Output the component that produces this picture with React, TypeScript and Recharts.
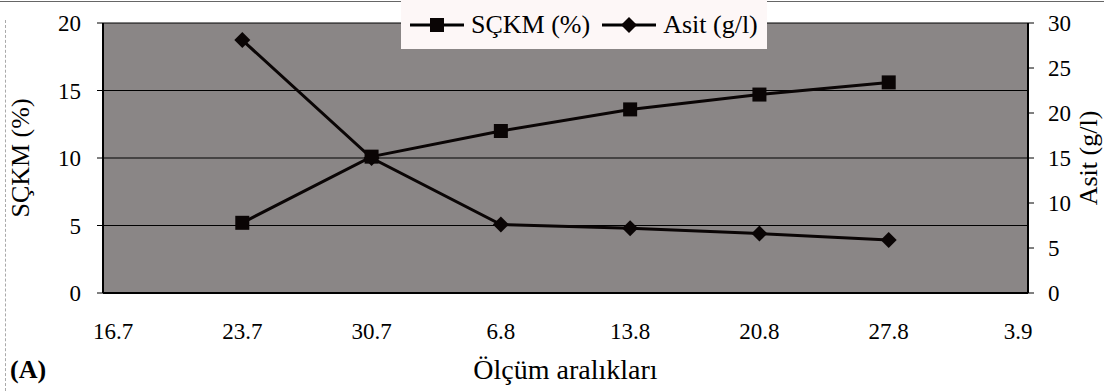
import { ComposedChart, Line, XAxis, YAxis, CartesianGrid } from 'recharts'

const categories = ['16.7', '23.7', '30.7', '6.8', '13.8', '20.8', '27.8', '3.9']
const sckm = [null, 5.2, 10.1, 12.0, 13.6, 14.7, 15.6, null]
const asit = [null, 28.1, 15.0, 7.6, 7.2, 6.6, 5.9, null]
const leftTicks = [0, 5, 10, 15, 20]
const rightTicks = [0, 5, 10, 15, 20, 25, 30]

const data = categories.map((c, i) => ({ cat: c, sckm: sckm[i], asit: asit[i] }))

const FONT = 'Liberation Serif, Times New Roman, serif'
const tickStyle = { fontSize: 23, fill: '#000', fontFamily: FONT }

function SquareDot(props: any) {
  const { cx, cy } = props
  if (cx == null || cy == null || props.value == null) return null
  return <rect x={cx - 7} y={cy - 7} width={14} height={14} fill="#0a0505" />
}

function DiamondDot(props: any) {
  const { cx, cy } = props
  if (cx == null || cy == null || props.value == null) return null
  const r = 8
  return <polygon points={`${cx},${cy - r} ${cx + r},${cy} ${cx},${cy + r} ${cx - r},${cy}`} fill="#0a0505" />
}

function LegendBox() {
  return (
    <div style={{
      position: 'absolute', left: 401, top: 0, width: 366, height: 49,
      background: '#fdf7f7', display: 'flex', alignItems: 'center',
      fontFamily: FONT, fontSize: 26, color: '#000', boxSizing: 'border-box', paddingLeft: 9,
    }}>
      <svg width={54} height={20} style={{ marginRight: 7 }}>
        <line x1={0} y1={10} x2={54} y2={10} stroke="#000" strokeWidth={3} />
        <rect x={20} y={3} width={14} height={14} fill="#0a0505" />
      </svg>
      <span style={{ marginRight: 12 }}>SÇKM (%)</span>
      <svg width={54} height={20} style={{ marginRight: 7 }}>
        <line x1={0} y1={10} x2={54} y2={10} stroke="#000" strokeWidth={3} />
        <polygon points="27,2 35,10 27,18 19,10" fill="#0a0505" />
      </svg>
      <span>Asit (g/l)</span>
    </div>
  )
}

export default function App() {
  return (
    <div style={{ position: 'absolute', left: 0, top: 0, width: 1104, height: 391, background: '#fff', overflow: 'hidden' }}>
      <div style={{ position: 'absolute', left: 0, top: 1, width: 1104, height: 1, background: '#666' }} />
      <div style={{ position: 'absolute', left: 5, top: 20, width: 0, height: 371, borderLeft: '1px dashed #aaa' }} />
      <ComposedChart
        width={1104}
        height={391}
        data={data}
        margin={{ top: 23, right: 0, bottom: 0, left: 0 }}
      >
        <CartesianGrid yAxisId="left" vertical={false} stroke="#000" strokeWidth={1} fill="#8a8686" fillOpacity={1} />
        <XAxis
          dataKey="cat"
          height={98}
          padding={{ left: 10, right: 10 }}
          tick={tickStyle}
          tickLine={false}
          tickSize={0}
          tickMargin={30}
          axisLine={{ stroke: '#000', strokeWidth: 2 }}
          interval={0}
          label={{
            value: 'Ölçüm aralıkları', position: 'insideBottom', offset: 12,
            style: { fontSize: 28, fill: '#000', fontFamily: FONT },
          }}
        />
        <XAxis xAxisId="top" dataKey="cat" orientation="top" height={0} tick={false} tickLine={false} axisLine={{ stroke: '#000', strokeWidth: 2 }} />
        <YAxis
          yAxisId="left"
          width={103}
          domain={[0, 20]}
          ticks={leftTicks}
          tick={tickStyle}
          tickSize={6}
          tickMargin={16}
          tickLine={{ stroke: '#000' }}
          axisLine={{ stroke: '#000', strokeWidth: 2 }}
          label={{
            value: 'SÇKM (%)', angle: -90, position: 'insideLeft', offset: 20,
            style: { textAnchor: 'middle', fontSize: 26, fill: '#000', fontFamily: FONT },
          }}
        />
        <YAxis
          yAxisId="right"
          orientation="right"
          width={76}
          domain={[0, 30]}
          ticks={rightTicks}
          tick={{ ...tickStyle, textAnchor: 'start' }}
          tickSize={6}
          tickMargin={14}
          tickLine={{ stroke: '#000' }}
          axisLine={{ stroke: '#000', strokeWidth: 2 }}
          label={{
            value: 'Asit (g/l)', angle: -90, position: 'insideRight', offset: 16,
            style: { textAnchor: 'middle', fontSize: 26, fill: '#000', fontFamily: FONT },
          }}
        />
        <Line yAxisId="right" dataKey="asit" stroke="#0a0505" strokeWidth={3} dot={<DiamondDot />} activeDot={false} isAnimationActive={false} />
        <Line yAxisId="left" dataKey="sckm" stroke="#0a0505" strokeWidth={3} dot={<SquareDot />} activeDot={false} isAnimationActive={false} />
      </ComposedChart>
      <LegendBox />
      <div style={{ position: 'absolute', left: 10, top: 355, fontFamily: FONT, fontSize: 26, fontWeight: 'bold', color: '#000' }}>(A)</div>
    </div>
  )
}
